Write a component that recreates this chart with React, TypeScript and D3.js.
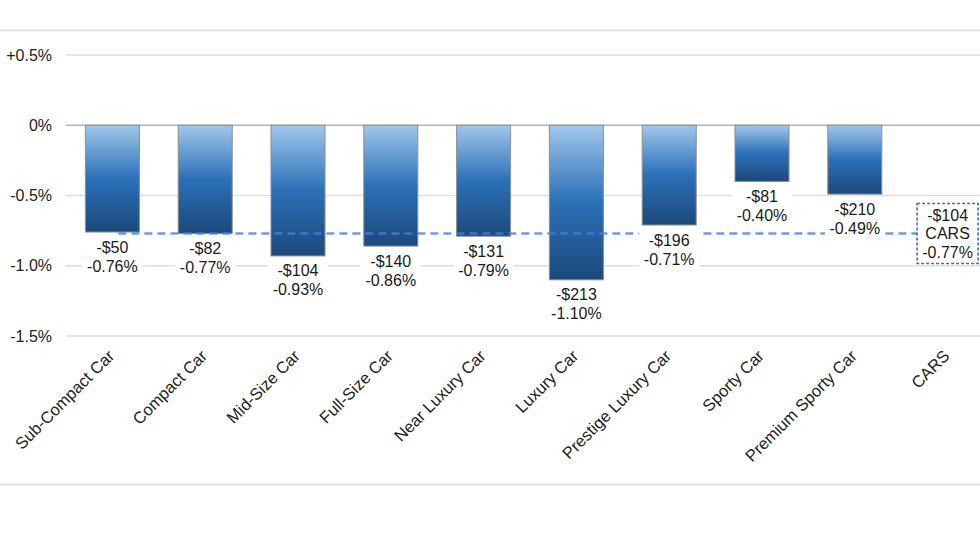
import * as d3 from "d3";

const categories = [
  "Sub-Compact Car",
  "Compact Car",
  "Mid-Size Car",
  "Full-Size Car",
  "Near Luxury Car",
  "Luxury Car",
  "Prestige Luxury Car",
  "Sporty Car",
  "Premium Sporty Car",
  "CARS",
];
const dollarChange = [-50, -82, -104, -140, -131, -213, -196, -81, -210];
const pctChange = [-0.76, -0.77, -0.93, -0.86, -0.79, -1.1, -0.71, -0.4, -0.49];
const totalDollar = -104;
const totalPct = -0.77;
const tickValues = [0.5, 0, -0.5, -1.0, -1.5];
const tickLabels = ["+0.5%", "0%", "-0.5%", "-1.0%", "-1.5%"];

const WIDTH = 980;
const HEIGHT = 552;
const FONT = "'Liberation Sans', Arial, Helvetica, sans-serif";

const fmtDollar = (v: number) => (v < 0 ? `-$${Math.abs(v)}` : `$${v}`);
const fmtPct = (v: number) => `${v.toFixed(2)}%`;

export default function App() {
  const x = d3
    .scaleBand<string>()
    .domain(categories)
    .range([66, 994])
    .paddingInner(0.418)
    .paddingOuter(0.209);
  const y = d3.scaleLinear().domain([0.5, -1.5]).range([55, 336]);

  const bw = x.bandwidth();
  const cx = (c: string) => x(c)! + bw / 2;
  const avgY = y(totalPct);
  const total = categories[categories.length - 1];
  const boxW = 61;
  const boxH = 60;

  return (
    <svg
      width={WIDTH}
      height={HEIGHT}
      style={{ position: "absolute", left: 0, top: 0, background: "#fff" }}
      fontFamily={FONT}
    >
      <defs>
        <linearGradient id="barGrad" x1="0" y1="0" x2="0" y2="1">
          <stop offset="0%" stopColor="#a1c7eb" />
          <stop offset="50%" stopColor="#2b70b8" />
          <stop offset="100%" stopColor="#1d497a" />
        </linearGradient>
      </defs>

      {/* frame lines */}
      <line x1={0} x2={WIDTH} y1={30.5} y2={30.5} stroke="#dcdcdc" strokeWidth={1.5} />
      <line x1={0} x2={WIDTH} y1={484.5} y2={484.5} stroke="#e2e2e2" strokeWidth={2} />

      {/* grid + y ticks */}
      {tickValues.map((t, i) => (
        <g key={t}>
          <line
            x1={66}
            x2={WIDTH}
            y1={y(t)}
            y2={y(t)}
            stroke={t === 0 ? "#b4b4b4" : "#dedede"}
            strokeWidth={1.5}
          />
          <text
            x={52}
            y={y(t)}
            dy="0.35em"
            textAnchor="end"
            fontSize={16}
            fill="#222"
          >
            {tickLabels[i]}
          </text>
        </g>
      ))}

      {/* bars */}
      {dollarChange.map((_, i) => {
        const c = categories[i];
        return (
          <rect
            key={c}
            x={x(c)}
            y={y(0)}
            width={bw}
            height={y(pctChange[i]) - y(0)}
            fill="url(#barGrad)"
            stroke="#8e8e8e"
            strokeWidth={1}
          />
        );
      })}

      {/* average line */}
      <line
        x1={cx(categories[0]) + 6}
        x2={cx(total) - boxW / 2}
        y1={avgY}
        y2={avgY}
        stroke="#4a7fd4"
        strokeOpacity={0.78}
        strokeWidth={2.5}
        strokeDasharray="8,5"
      />

      {/* bar labels */}
      {dollarChange.map((d, i) => {
        const c = categories[i];
        const b = y(pctChange[i]);
        return (
          <g key={c} fontSize={16} fill="#1a1a1a" textAnchor="middle">
            <rect x={cx(c) - 30} y={b + 3.5} width={60} height={40} fill="#fff" />
            <text x={cx(c)} y={b + 20.5}>
              {fmtDollar(d)}
            </text>
            <text x={cx(c)} y={b + 39.5}>
              {fmtPct(pctChange[i])}
            </text>
          </g>
        );
      })}

      {/* total box */}
      <g fontSize={16} fill="#1a1a1a" textAnchor="middle">
        <rect
          x={cx(total) - boxW / 2}
          y={avgY - boxH / 2}
          width={boxW}
          height={boxH}
          fill="#fff"
          stroke="#3b6cc8"
          strokeWidth={1.6}
          strokeDasharray="3,2"
        />
        <text x={cx(total)} y={avgY - 18.5} dy="0.35em">
          {fmtDollar(totalDollar)}
        </text>
        <text x={cx(total)} y={avgY} dy="0.35em">
          {total}
        </text>
        <text x={cx(total)} y={avgY + 18.5} dy="0.35em">
          {fmtPct(totalPct)}
        </text>
      </g>

      {/* x axis labels */}
      {categories.map((c) => (
        <text
          key={c}
          transform={`translate(${cx(c) + 3},357) rotate(-45)`}
          textAnchor="end"
          fontSize={16.5}
          fill="#222"
        >
          {c}
        </text>
      ))}
    </svg>
  );
}
